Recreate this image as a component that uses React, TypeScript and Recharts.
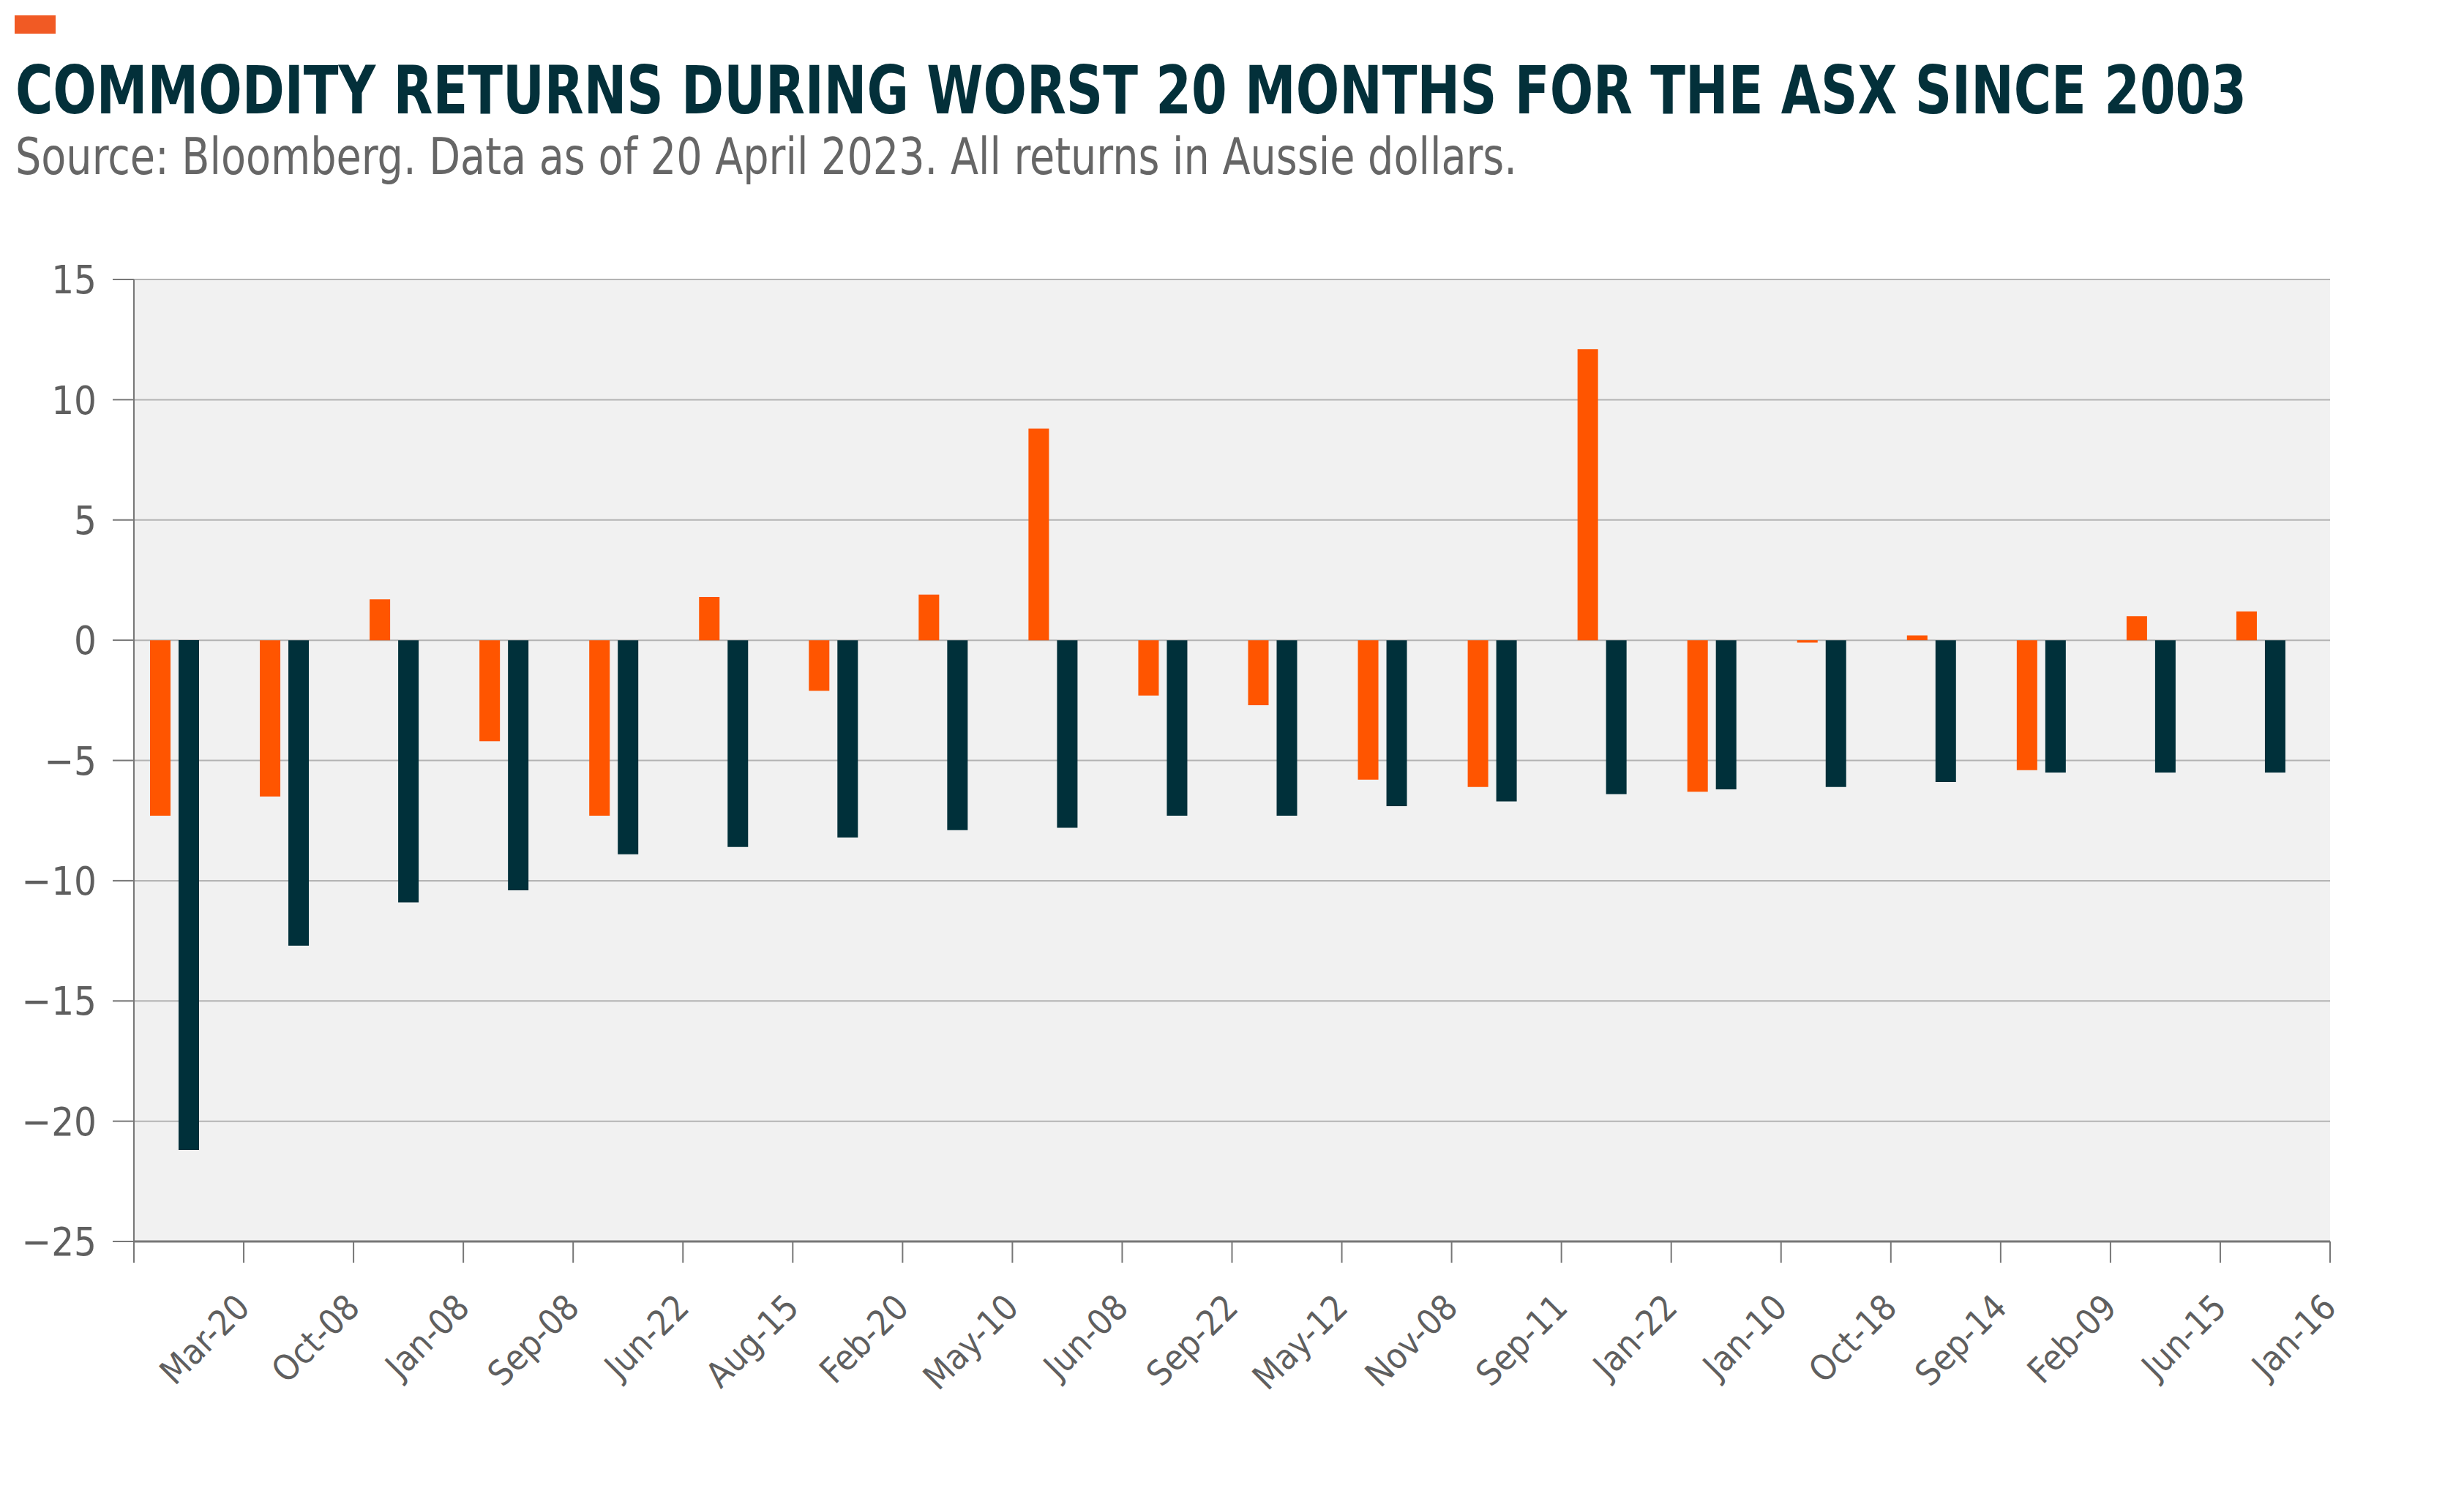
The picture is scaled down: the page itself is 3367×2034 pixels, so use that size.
import React from 'react';
import { BarChart, Bar, XAxis, YAxis, CartesianGrid } from 'recharts';

// worst 20 ASX months since 2003, sorted by ASX return
const months = [
  'Mar-20', 'Oct-08', 'Jan-08', 'Sep-08', 'Jun-22', 'Aug-15', 'Feb-20', 'May-10', 'Jun-08', 'Sep-22',
  'May-12', 'Nov-08', 'Sep-11', 'Jan-22', 'Jan-10', 'Oct-18', 'Sep-14', 'Feb-09', 'Jun-15', 'Jan-16',
];
const commodityReturns = [
  -7.3, -6.5, 1.7, -4.2, -7.3, 1.8, -2.1, 1.9, 8.8, -2.3,
  -2.7, -5.8, -6.1, 12.1, -6.3, -0.1, 0.2, -5.4, 1.0, 1.2,
];
const asxReturns = [
  -21.2, -12.7, -10.9, -10.4, -8.9, -8.6, -8.2, -7.9, -7.8, -7.3,
  -7.3, -6.9, -6.7, -6.4, -6.2, -6.1, -5.9, -5.5, -5.5, -5.5,
];
const yTicks = [-25, -20, -15, -10, -5, 0, 5, 10, 15];

const data = months.map((m, i) => ({
  month: m,
  commodities: commodityReturns[i],
  asx: asxReturns[i],
}));

const W = 3367;
const H = 2034;
const HEADER_H = 300;
const PLOT_LEFT = 183;
const PLOT_RIGHT = 3184;
const PLOT_TOP = 382;
const PLOT_BOTTOM = 1697;
const XAXIS_H = 300;
const BAND = (PLOT_RIGHT - PLOT_LEFT) / months.length;

const FONT = "'Liberation Sans Narrow', 'DejaVu Sans Condensed', 'Roboto', 'Liberation Sans', sans-serif";
const AXIS_GREY = '#777777';
const TEXT_GREY = '#5f5f5f';

const fmtY = (v: number) => (v < 0 ? `\u2212${Math.abs(v)}` : `${v}`);

const XTick = (props: any) => {
  const { x, y, payload, index } = props;
  return (
    <g>
      {index === 0 && (
        <line x1={x - BAND / 2} y1={y} x2={x - BAND / 2} y2={y + 29} stroke={AXIS_GREY} strokeWidth={2} />
      )}
      <line x1={x + BAND / 2} y1={y} x2={x + BAND / 2} y2={y + 29} stroke={AXIS_GREY} strokeWidth={2} />
      <text
        x={x + 86}
        y={y + 93}
        textAnchor="end"
        transform={`rotate(-45, ${x + 86}, ${y + 93})`}
        fontSize={48}
        fontFamily={FONT}
        fill={TEXT_GREY}
      >
        {payload.value}
      </text>
    </g>
  );
};

export default function App() {
  return (
    <div style={{ position: 'absolute', left: 0, top: 0, width: W, height: H, background: '#ffffff' }}>
      <svg width={W} height={HEADER_H} style={{ position: 'absolute', left: 0, top: 0 }}>
        <rect x={20} y={21} width={56} height={25} fill="#f15a24" />
        {/* condensed title: smaller font stretched vertically to reach the original cap height */}
        <g transform="translate(21,155) scale(1,1.1)">
          <text
            x={0}
            y={0}
            fontFamily={FONT}
            fontWeight={700}
            fontSize={83}
            fill="#03303a"
            textLength={3049}
            lengthAdjust="spacingAndGlyphs"
          >
            COMMODITY RETURNS DURING WORST 20 MONTHS FOR THE ASX SINCE 2003
          </text>
        </g>
        <text
          x={21}
          y={238}
          fontFamily={FONT}
          fontSize={69}
          fill="#666666"
          textLength={2052}
          lengthAdjust="spacingAndGlyphs"
        >
          Source: Bloomberg. Data as of 20 April 2023. All returns in Aussie dollars.
        </text>
      </svg>
      <div style={{ position: 'absolute', left: 0, top: HEADER_H }}>
        <BarChart
          width={W}
          height={H - HEADER_H}
          data={data}
          margin={{
            top: PLOT_TOP - HEADER_H,
            right: W - PLOT_RIGHT,
            bottom: H - PLOT_BOTTOM - XAXIS_H,
            left: 0,
          }}
          barCategoryGap={22}
          barGap={11}
        >
          <CartesianGrid vertical={false} fill="#f1f1f1" stroke="#b3b3b3" strokeWidth={2} />
          <XAxis
            dataKey="month"
            height={XAXIS_H}
            interval={0}
            tickLine={false}
            tickSize={0}
            tickMargin={0}
            axisLine={{ stroke: AXIS_GREY, strokeWidth: 3 }}
            tick={<XTick />}
          />
          <YAxis
            width={PLOT_LEFT}
            domain={[-25, 15]}
            ticks={yTicks}
            interval={0}
            tickSize={29}
            tickMargin={22}
            tickFormatter={fmtY}
            tickLine={{ stroke: AXIS_GREY, strokeWidth: 2 }}
            axisLine={{ stroke: AXIS_GREY, strokeWidth: 2 }}
            tick={{ fontSize: 54, fill: TEXT_GREY, fontFamily: FONT }}
          />
          <Bar dataKey="commodities" fill="#ff5500" isAnimationActive={false} />
          <Bar dataKey="asx" fill="#00303a" isAnimationActive={false} />
          {/* empty third series keeps the pair left of centre, as in the original */}
          <Bar dataKey="spacer" fill="none" isAnimationActive={false} />
        </BarChart>
      </div>
    </div>
  );
}
